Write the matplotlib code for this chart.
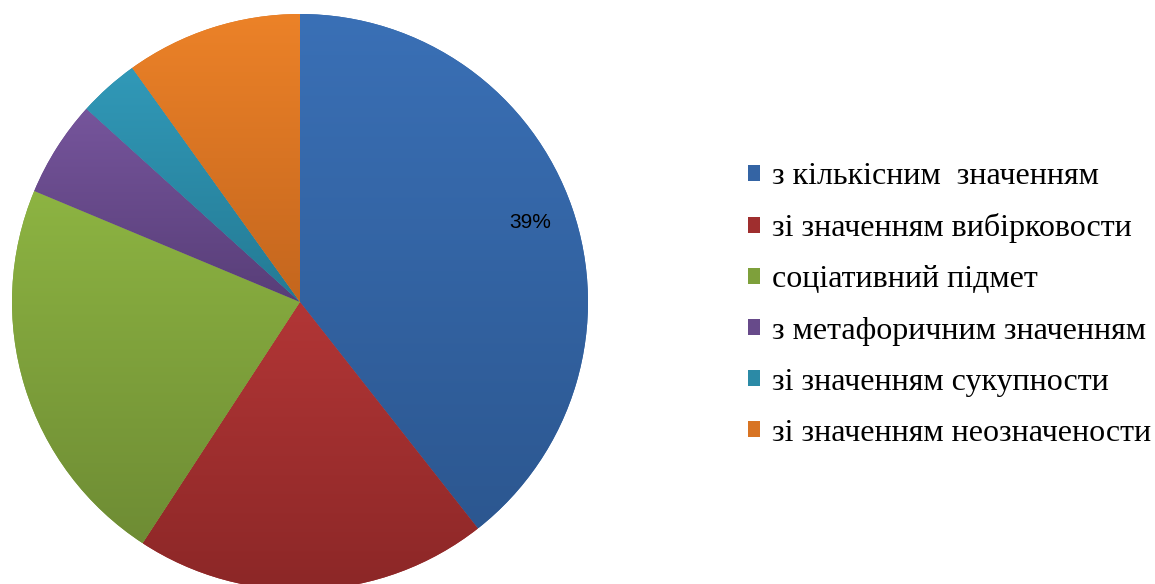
import numpy as np
import matplotlib
matplotlib.use("Agg")
import matplotlib.pyplot as plt
from matplotlib.patches import Patch
from matplotlib.colors import LinearSegmentedColormap

labels = ["з кількісним  значенням",
          "зі значенням вибірковости",
          "соціативний підмет",
          "з метафоричним значенням",
          "зі значенням сукупности",
          "зі значенням неозначености"]
values = [39.4, 19.8, 22.1, 5.4, 3.4, 9.9]

# light (top) and dark (bottom) shade of each slice
tops = ["#3a70b6", "#b23636", "#8db442", "#76559c", "#3199b8", "#ec8228"]
bottoms = ["#2c5790", "#8c2727", "#6e8c34", "#583e78", "#247a94", "#c4661e"]
mids = ["#3464a4", "#9f2e2e", "#7ea03b", "#674a8a", "#2b8aa6", "#d87423"]

fig = plt.figure(figsize=(11.55, 5.84), dpi=100)
ax = fig.add_axes([12 / 1155, -6 / 584, 576 / 1155, 576 / 584])

def pct_label(p):
    return f"{p:.0f}%" if p > 30 else ""

wedges, texts, autotexts = ax.pie(values, startangle=90, counterclock=False,
                                  autopct=pct_label, pctdistance=0.845,
                                  radius=1.0, colors=mids,
                                  wedgeprops=dict(linewidth=0),
                                  textprops=dict(fontsize=15, family="Liberation Sans"))

# vertical gradient inside each slice
grad = np.linspace(0, 1, 256).reshape(-1, 1)
for w, c1, c2 in zip(wedges, tops, bottoms):
    bb = w.get_path().get_extents(w.get_patch_transform())
    cmap = LinearSegmentedColormap.from_list("g", [c2, c1])
    im = ax.imshow(grad, cmap=cmap, origin="lower", aspect="auto",
                   extent=[bb.x0, bb.x1, bb.y0, bb.y1], zorder=1.5)
    im.set_clip_path(w)
    w.set_zorder(1)

for t in autotexts:
    t.set_zorder(3)
    t.set_color("black")

ax.set_xlim(-1, 1)
ax.set_ylim(-1, 1)
ax.set_aspect("equal")
ax.axis("off")

handles = [Patch(facecolor=c, edgecolor="none") for c in mids]
fig.legend(handles, labels, loc="center left", bbox_to_anchor=(748 / 1155, (584 - 305) / 584),
           frameon=False, prop=dict(family="Liberation Serif", size=23),
           handlelength=0.38, handleheight=0.38, handletextpad=0.375,
           labelspacing=0.69, borderpad=0, borderaxespad=0)

fig.savefig("out.png", dpi=100)
